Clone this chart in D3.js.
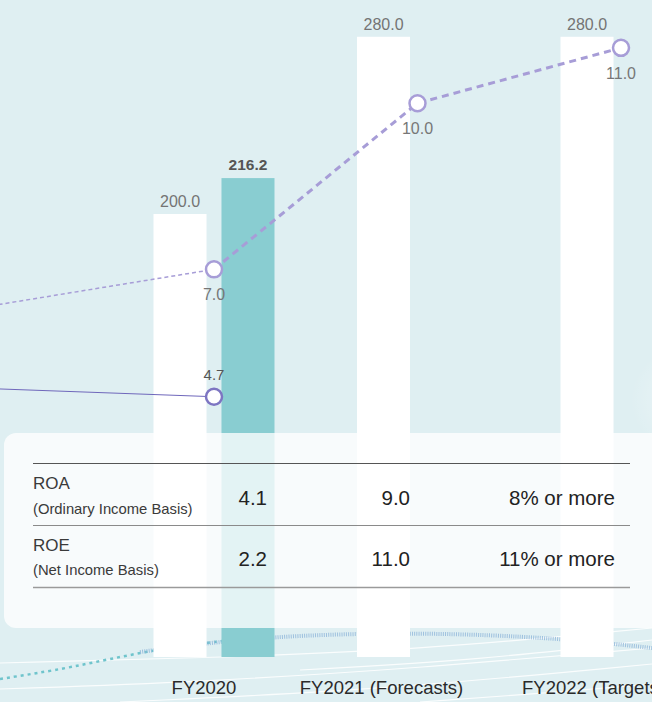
<!DOCTYPE html>
<html>
<head>
<meta charset="utf-8">
<script src="https://cdn.jsdelivr.net/npm/d3@7"></script>
<style>
  html, body { margin: 0; padding: 0; background: #dfeff2; }
  svg { display: block; font-family: "Liberation Sans", Arial, Helvetica, sans-serif; }
</style>
</head>
<body>
<svg id="chart" width="652" height="702"></svg>
<script>
// ---------- DATA ----------
const categories = ["FY2020", "FY2021 (Forecasts)", "FY2022 (Targets)"];
const planValues = [200.0, 280.0, 280.0];          // white bars
const actualValues = [216.2, null, null];         // teal bar
const roePrevious = 6.1;                          // earlier year (off the left edge)
const roeValues = [7.0, 10.0, 11.0];              // dashed purple line
const roaPrevious = 4.9;                          // earlier year (off the left edge)
const roaValues = [4.7, null, null];              // solid purple line
const tableRowTitles = ["ROA", "ROE"];
const tableRowSubtitles = ["(Ordinary Income Basis)", "(Net Income Basis)"];
const roaTable = ["4.1", "9.0", "8% or more"];
const roeTable = ["2.2", "11.0", "11% or more"];

// ---------- LAYOUT ----------
const W = 652, H = 702;
const svg = d3.select("#chart");
const baseY = 657;
const barMax = 296.6;
const lineRatio = 25;

const x = d3.scaleLinear().domain([0, 2]).range([214, 621]);
const sub = d3.scaleBand().domain(["plan", "actual"]).range([-60.5, 60.5]).paddingInner(0.22);
const y = d3.scaleLinear().domain([0, barMax]).range([baseY, 0]);
const y2 = d3.scaleLinear().domain([0, barMax / lineRatio]).range([baseY, 0]);

// background
svg.append("rect").attr("width", W).attr("height", H).attr("fill", "#dfeff2");

// soft glow on right edge
const defs = svg.append("defs");
const glow = defs.append("radialGradient").attr("id", "glow").attr("cx", "50%").attr("cy", "50%").attr("r", "50%");
glow.append("stop").attr("offset", "0%").attr("stop-color", "#ffffff").attr("stop-opacity", 0.5);
glow.append("stop").attr("offset", "100%").attr("stop-color", "#ffffff").attr("stop-opacity", 0);
svg.append("ellipse").attr("cx", 700).attr("cy", 400).attr("rx", 70).attr("ry", 60).attr("fill", "url(#glow)");

// decorative bottom curves
const deco = svg.append("g");
const curve = d3.line().curve(d3.curveBasis);
const whiteLines = [
  [[0, 663], [200, 658], [420, 650], [652, 628]],
  [[0, 689], [200, 682], [420, 668], [652, 648]],
  [[120, 702], [380, 690], [652, 664]],
  [[420, 702], [560, 692], [652, 684]],
  [[300, 670], [480, 660], [652, 640]]
];
whiteLines.forEach(p => deco.append("path").attr("d", curve(p))
  .attr("fill", "none").attr("stroke", "#ffffff").attr("stroke-width", 1.2).attr("stroke-opacity", 0.85));
deco.append("path").attr("d", curve([[0, 679], [70, 668], [150, 650], [230, 640]]))
  .attr("fill", "none").attr("stroke", "#6fc4cc").attr("stroke-width", 2.5).attr("stroke-dasharray", "3 4");
deco.append("path").attr("d", curve([[140, 652], [260, 636], [420, 632], [560, 638], [652, 648]]))
  .attr("fill", "none").attr("stroke", "#93b9da").attr("stroke-width", 4).attr("stroke-dasharray", "1 1.2").attr("stroke-opacity", 0.85);

// bars
const gBars = svg.append("g");
gBars.selectAll("rect.plan").data(planValues).join("rect")
  .attr("class", "plan")
  .attr("x", (d, i) => x(i) + sub("plan"))
  .attr("width", sub.bandwidth())
  .attr("y", d => y(d))
  .attr("height", d => baseY - y(d))
  .attr("fill", "#ffffff");
gBars.selectAll("rect.actual").data(actualValues.map((v, i) => ({ v, i })).filter(d => d.v != null)).join("rect")
  .attr("class", "actual")
  .attr("x", d => x(d.i) + sub("actual"))
  .attr("width", sub.bandwidth())
  .attr("y", d => y(d.v))
  .attr("height", d => baseY - y(d.v))
  .attr("fill", "#89cdd1");

// bar labels
gBars.selectAll("text.plan").data(planValues).join("text")
  .attr("x", (d, i) => x(i) + sub("plan") + sub.bandwidth() / 2)
  .attr("y", d => y(d) - 7)
  .attr("text-anchor", "middle")
  .attr("font-size", 16).attr("fill", "#747474")
  .text(d => d.toFixed(1));
gBars.selectAll("text.actual").data(actualValues.map((v, i) => ({ v, i })).filter(d => d.v != null)).join("text")
  .attr("x", d => x(d.i) + sub("actual") + sub.bandwidth() / 2)
  .attr("y", d => y(d.v) - 8)
  .attr("text-anchor", "middle")
  .attr("font-size", 15.5).attr("font-weight", "bold").attr("fill", "#555555")
  .text(d => d.v.toFixed(1));

// lines
const gLines = svg.append("g");
const lineGen = d3.line().x(d => x(d.i)).y(d => y2(d.v));
// ROE earlier segment (thin dashed)
gLines.append("path")
  .attr("d", lineGen([{ i: -1.5, v: roePrevious }, { i: 0, v: roeValues[0] }]))
  .attr("fill", "none").attr("stroke", "#a79dd7").attr("stroke-width", 1.5).attr("stroke-dasharray", "4 3");
// ROE forecast segment (thick dashed)
gLines.append("path")
  .attr("d", lineGen(roeValues.map((v, i) => ({ i, v }))))
  .attr("fill", "none").attr("stroke", "#a79dd7").attr("stroke-width", 3).attr("stroke-dasharray", "7 5");
// ROA line
const roaPts = roaValues.map((v, i) => ({ i, v })).filter(d => d.v != null);
gLines.append("path")
  .attr("d", lineGen([{ i: -1.5, v: roaPrevious }, ...roaPts]))
  .attr("fill", "none").attr("stroke", "#6f67bb").attr("stroke-width", 1);

// markers
gLines.selectAll("circle.roe").data(roeValues).join("circle")
  .attr("cx", (d, i) => x(i)).attr("cy", d => y2(d)).attr("r", 8)
  .attr("fill", "#ffffff").attr("stroke", "#a79dd7").attr("stroke-width", 2.5);
gLines.selectAll("circle.roa").data(roaPts).join("circle")
  .attr("cx", d => x(d.i)).attr("cy", d => y2(d.v)).attr("r", 8)
  .attr("fill", "#ffffff").attr("stroke", "#7d75c2").attr("stroke-width", 2.5);

gLines.selectAll("text.roe").data(roeValues).join("text")
  .attr("x", (d, i) => x(i)).attr("y", d => y2(d) + 31)
  .attr("text-anchor", "middle").attr("font-size", 16).attr("fill", "#777777")
  .text(d => d.toFixed(1));
gLines.selectAll("text.roa").data(roaPts).join("text")
  .attr("x", d => x(d.i)).attr("y", d => y2(d.v) - 17)
  .attr("text-anchor", "middle").attr("font-size", 15).attr("fill", "#555555")
  .text(d => d.v.toFixed(1));

// table panel
const panel = svg.append("g");
panel.append("rect").attr("x", 4).attr("y", 433).attr("width", 670).attr("height", 195).attr("rx", 12)
  .attr("fill", "#ffffff").attr("fill-opacity", 0.76);

const tl = 33, tr = 630;
panel.append("line").attr("x1", tl).attr("x2", tr).attr("y1", 463.5).attr("y2", 463.5).attr("stroke", "#555").attr("stroke-width", 1.2);
panel.append("line").attr("x1", tl).attr("x2", tr).attr("y1", 525.5).attr("y2", 525.5).attr("stroke", "#8a8a8a").attr("stroke-width", 1);
panel.append("line").attr("x1", tl).attr("x2", tr).attr("y1", 587.5).attr("y2", 587.5).attr("stroke", "#9a9a9a").attr("stroke-width", 1.5);

const rowBase = [489, 550.5];
const subBase = [513.5, 575];
const valBase = [505, 566];
const tableData = [roaTable, roeTable];
const colX = [267, 410, 615];

tableRowTitles.forEach((t, r) => {
  panel.append("text").attr("x", tl).attr("y", rowBase[r]).attr("font-size", 17).attr("fill", "#3a3a3a").text(t);
  panel.append("text").attr("x", tl).attr("y", subBase[r]).attr("font-size", 14.8)
    .attr("fill", "#3a3a3a").text(tableRowSubtitles[r]);
  tableData[r].forEach((v, c) => {
    panel.append("text").attr("x", colX[c]).attr("y", valBase[r]).attr("text-anchor", "end")
      .attr("font-size", 20.5).attr("fill", "#222").text(v);
  });
});

// x-axis labels (centre shift from each category's position)
const labelShift = [-10, -36, -27.5];
svg.append("g").selectAll("text").data(categories).join("text")
  .attr("x", (d, i) => x(i) + labelShift[i]).attr("y", 693.5)
  .attr("text-anchor", "middle").attr("font-size", 18.5).attr("fill", "#2a2a2a")
  .text(d => d);
</script>
</body>
</html>
